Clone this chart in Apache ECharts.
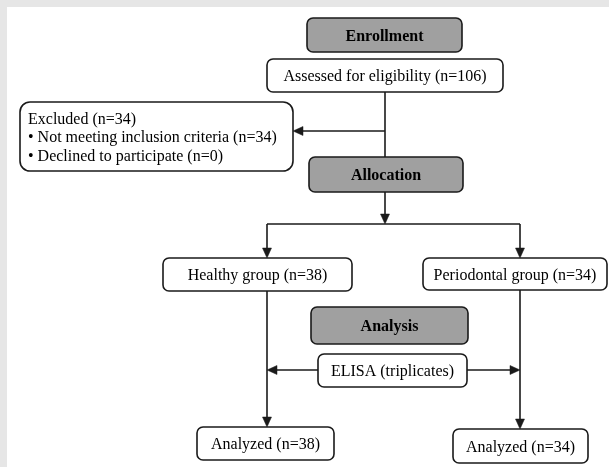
<!DOCTYPE html>
<html><head><meta charset="utf-8">
<script src="https://cdn.jsdelivr.net/npm/echarts@6/dist/echarts.min.js"></script>
<style>html,body{margin:0;padding:0;background:#e6e6e6}#chart{width:609px;height:467px}</style>
</head><body><div id="chart"></div>
<script>
// ---- content ----
const stageLabels = ['Enrollment', 'Allocation', 'Analysis'];
const boxLabels = [
  'Assessed for eligibility (n=106)',
  'Healthy group (n=38)',
  'Periodontal group (n=34)',
  'ELISA (triplicates)',
  'Analyzed (n=38)',
  'Analyzed (n=34)'
];
const excludedLines = [
  'Excluded (n=34)',
  '\u2022 Not meeting inclusion criteria (n=34)',
  '\u2022 Declined to participate (n=0)'
];

// ---- layout (diagram coordinates) ----
const stageBoxes = [[307, 18, 462, 52], [309, 157, 463, 192], [311, 307, 468, 344]];
const plainBoxes = [[267, 59, 503, 92], [163, 258, 352, 291], [423, 258, 607, 290],
                    [318, 354, 467, 387], [197, 427, 334, 460], [453, 429, 588, 463]];
const excludedBox = [[20, 102, 293, 171]];
// connectors: x1, y1, x2, y2, arrow(1/0)
const connectors = [
  [385, 92, 385, 157, 0],
  [385, 131, 293, 131, 1],
  [385, 192, 385, 224, 1],
  [267, 224, 520, 224, 0],
  [267, 224, 267, 258, 1],
  [520, 224, 520, 258, 1],
  [267, 291, 267, 427, 1],
  [520, 290, 520, 429, 1],
  [318, 370, 267, 370, 1],
  [467, 370, 520, 370, 1]
];

const FONT = '"Liberation Serif", "Times New Roman", serif';
const STROKE = '#1a1a1a';
const TEXT_SY = 1.1;

function rectOf(api) {
  const a = api.coord([api.value(0), api.value(1)]);
  const b = api.coord([api.value(2), api.value(3)]);
  return { x: a[0], y: a[1], w: b[0] - a[0], h: b[1] - a[1] };
}

function label(text, x, y, align, bold) {
  return { type: 'text', x: x, y: y, scaleY: TEXT_SY,
    style: { text: text, x: 0, y: 0, align: align, verticalAlign: 'middle', fill: '#000',
      fontFamily: FONT, fontSize: 16, fontWeight: bold ? 'bold' : 'normal' } };
}

function boxRenderer(labels, filled, bold) {
  return function (params, api) {
    const r = rectOf(api);
    return {
      type: 'group',
      children: [
        { type: 'rect', shape: { x: r.x, y: r.y, width: r.w, height: r.h, r: 6 },
          style: { fill: filled ? '#a0a0a0' : '#ffffff', stroke: STROKE, lineWidth: 1.6 } },
        label(labels[params.dataIndex], r.x + r.w / 2, r.y + r.h / 2 + 1, 'center', bold)
      ]
    };
  };
}

function excludedRenderer(params, api) {
  const r = rectOf(api);
  const children = [
    { type: 'rect', shape: { x: r.x, y: r.y, width: r.w, height: r.h, r: 10 },
      style: { fill: '#ffffff', stroke: STROKE, lineWidth: 1.6 } }
  ];
  const lh = 18.5;
  const cy = r.y + r.h / 2 + 1;
  excludedLines.forEach(function (t, i) {
    children.push(label(t, r.x + 8, cy + (i - 1) * lh, 'left', false));
  });
  return { type: 'group', children: children };
}

function connectorRenderer(params, api) {
  const p1 = api.coord([api.value(0), api.value(1)]);
  const p2 = api.coord([api.value(2), api.value(3)]);
  const arrow = api.value(4);
  const dx = p2[0] - p1[0], dy = p2[1] - p1[1];
  const len = Math.sqrt(dx * dx + dy * dy);
  const ux = dx / len, uy = dy / len;
  const L = 10, W = 4.5;
  const children = [];
  const end = arrow ? [p2[0] - ux * (L - 1), p2[1] - uy * (L - 1)] : p2;
  children.push({ type: 'line', shape: { x1: p1[0], y1: p1[1], x2: end[0], y2: end[1] },
    style: { stroke: STROKE, lineWidth: 1.6 } });
  if (arrow) {
    const bx = p2[0] - ux * L, by = p2[1] - uy * L;
    children.push({ type: 'polygon', shape: { points: [
      [p2[0], p2[1]], [bx - uy * W, by + ux * W], [bx + uy * W, by - ux * W]] },
      style: { fill: STROKE, stroke: STROKE, lineWidth: 0.5 } });
  }
  return { type: 'group', children: children };
}

const chart = echarts.init(document.getElementById('chart'), null, { renderer: 'canvas' });
chart.setOption({
  animation: false,
  backgroundColor: '#e6e6e6',
  graphic: [{ type: 'rect', left: 7, top: 7, shape: { width: 602, height: 460 },
    style: { fill: '#ffffff' }, z: -10 }],
  grid: { left: 0, right: 0, top: 0, bottom: 0 },
  xAxis: { type: 'value', min: 0, max: 609, show: false },
  yAxis: { type: 'value', min: 0, max: 467, inverse: true, show: false },
  series: [
    { type: 'custom', renderItem: connectorRenderer, data: connectors, clip: false, z: 1 },
    { type: 'custom', renderItem: boxRenderer(stageLabels, true, true), data: stageBoxes, clip: false, z: 2 },
    { type: 'custom', renderItem: boxRenderer(boxLabels, false, false), data: plainBoxes, clip: false, z: 2 },
    { type: 'custom', renderItem: excludedRenderer, data: excludedBox, clip: false, z: 2 }
  ]
});
</script>
</body></html>
